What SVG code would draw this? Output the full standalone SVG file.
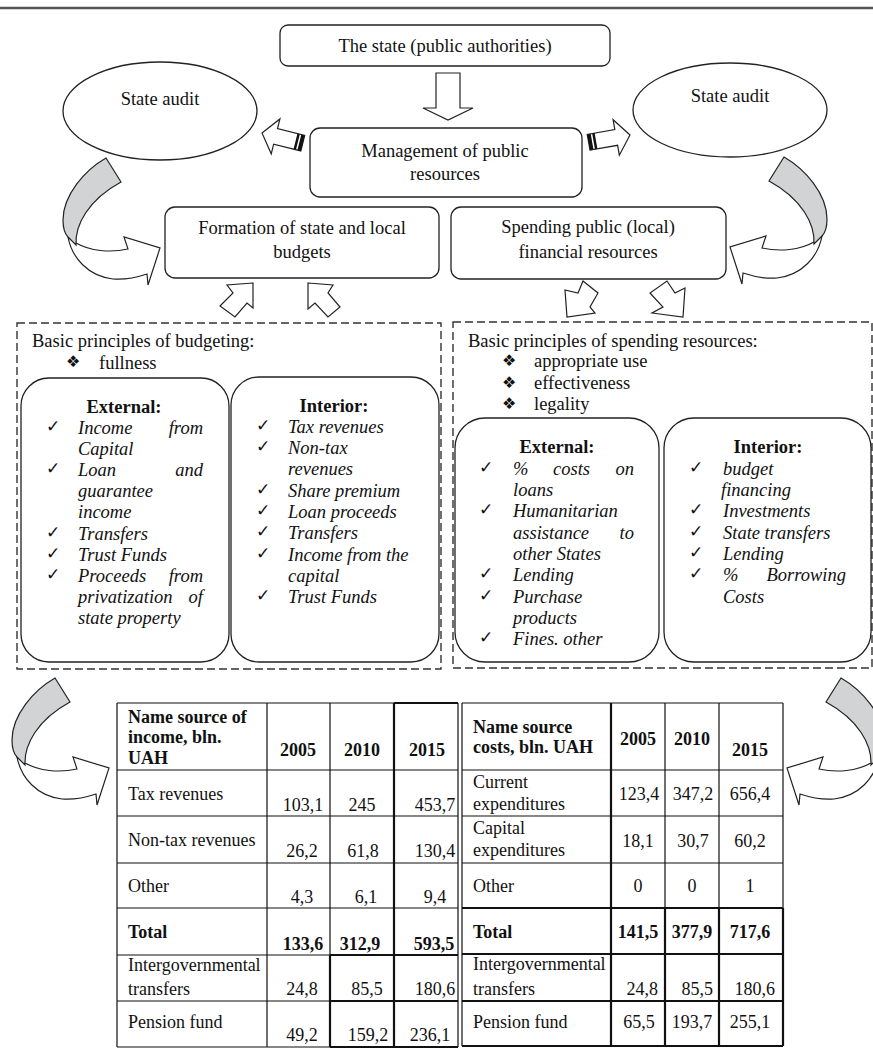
<svg xmlns="http://www.w3.org/2000/svg" width="873" height="1052" viewBox="0 0 873 1052">
<style>
text { font-family: "Liberation Serif", "Times New Roman", serif; font-size: 18.5px; fill: #111; }
.b { font-weight: bold; }
.i { font-style: italic; }
.m { text-anchor: middle; }
.e { text-anchor: end; }
.t { font-size: 18px; }
.ck { font-family: "DejaVu Sans", sans-serif; font-size: 17px; font-style: normal; }
.bu { font-family: "DejaVu Sans", sans-serif; font-size: 16px; }
.box { fill: #fff; stroke: #222; stroke-width: 1.3; }
.dash { fill: none; stroke: #333; stroke-width: 1.4; stroke-dasharray: 8 4; }
.arr { fill: #fff; stroke: #222; stroke-width: 1.2; stroke-linejoin: miter; }
.gray { fill: #d2d3d5; stroke: #222; stroke-width: 1.2; }
.tl { stroke: #111; stroke-width: 1.2; fill: none; }
.tk { stroke: #111; stroke-width: 2.2; fill: none; }
</style>
<defs>
<g id="curv">
<path class="arr" d="M68,237 C72,258 88,276 113,279 C125,280 138,277 147,274 L148,285 L160,248 L124,237 L128,249 C110,253 90,251 76,243 Z"/>
<path class="gray" d="M106,158 C85,170 63,195 63,220 C63,228 65,234 68,237 L76,245 C75,225 88,200 121,182 Z"/>
</g>
<g id="sarr">
<polygon class="arr" points="0,0 14,-18 14,-8 42,-8 42,8 14,8 14,18"/>
<rect x="34.5" y="-8" width="2.5" height="16" fill="#111"/>
<rect x="38.5" y="-8" width="3.5" height="16" fill="#111"/>
</g>
</defs>

<line x1="0" y1="8" x2="873" y2="8" stroke="#555" stroke-width="2.5"/>

<g id="connectors">
<polygon class="arr" points="436,73 460,73 460,108 473,108 448,120 423,108 436,108"/>
<use href="#sarr" transform="translate(262,133) rotate(14)"/>
<use href="#sarr" transform="translate(630,135) rotate(-10) scale(-1,1)"/>
<use href="#curv"/>
<use href="#curv" transform="translate(890,-1) scale(-1,1)"/>
<use href="#curv" transform="translate(-51,520)"/>
<use href="#curv" transform="translate(947,520) scale(-1,1)"/>
<polygon class="arr" points="253,283 227,285 233,293 220,306 235,317 247,303 253,308"/>
<polygon class="arr" points="308,283 333,285 328,293 340,307 328,317 315,303 308,309"/>
<polygon class="arr" points="583,281 578,293 565,290 567,317 595,313 590,307 598,293"/>
<polygon class="arr" points="667,281 675,293 685,288 683,317 652,313 663,307 650,293"/>
</g>

<g id="state">
<rect class="box" x="280" y="25" width="330" height="41" rx="8"/>
<text class="m" x="445" y="52">The state (public authorities)</text>
</g>

<g id="audit-left">
<ellipse class="box" cx="160" cy="111" rx="97" ry="49"/>
<text class="m" x="160" y="105">State audit</text>
</g>

<g id="audit-right">
<ellipse class="box" cx="730" cy="110" rx="97" ry="47"/>
<text class="m" x="730" y="102">State audit</text>
</g>

<g id="management">
<rect class="box" x="310" y="128" width="272" height="69" rx="10"/>
<text class="m" x="445" y="157">Management of public</text>
<text class="m" x="445" y="180">resources</text>
</g>

<g id="formation">
<rect class="box" x="165" y="207" width="274" height="71" rx="10"/>
<text class="m" x="302" y="234">Formation of state and local</text>
<text class="m" x="302" y="258">budgets</text>
</g>

<g id="spending">
<rect class="box" x="451" y="207" width="275" height="72" rx="10"/>
<text class="m" x="588" y="233">Spending public (local)</text>
<text class="m" x="588" y="258">financial resources</text>
</g>

<g id="budgeting-principles">
<rect class="dash" x="17" y="323" width="424" height="346"/>
<text x="32" y="347">Basic principles of budgeting:</text>
<text class="bu" x="66" y="367">❖</text>
<text x="99" y="369">fullness</text>
</g>

<g id="budget-external">
<rect class="box" x="21" y="378" width="208" height="284" rx="28"/>
<text class="b m" x="124" y="413">External:</text>
<text class="ck" x="46" y="432">✓</text><text class="i" x="78" y="434">Income</text><text class="i e" x="203" y="434">from</text>
<text class="i" x="78" y="455">Capital</text>
<text class="ck" x="46" y="474">✓</text><text class="i" x="78" y="476">Loan</text><text class="i e" x="203" y="476">and</text>
<text class="i" x="78" y="497">guarantee</text>
<text class="i" x="78" y="518">income</text>
<text class="ck" x="46" y="538">✓</text><text class="i" x="78" y="540">Transfers</text>
<text class="ck" x="46" y="559">✓</text><text class="i" x="78" y="561">Trust Funds</text>
<text class="ck" x="46" y="580">✓</text><text class="i" x="78" y="582">Proceeds</text><text class="i e" x="203" y="582">from</text>
<text class="i" x="78" y="603">privatization</text><text class="i e" x="203" y="603">of</text>
<text class="i" x="78" y="624">state property</text>
</g>

<g id="budget-interior">
<rect class="box" x="231" y="377" width="208" height="285" rx="28"/>
<text class="b m" x="334" y="412">Interior:</text>
<text class="ck" x="256" y="431">✓</text><text class="i" x="288" y="433">Tax revenues</text>
<text class="ck" x="256" y="452">✓</text><text class="i" x="288" y="454">Non-tax</text>
<text class="i" x="288" y="475">revenues</text>
<text class="ck" x="256" y="495">✓</text><text class="i" x="288" y="497">Share premium</text>
<text class="ck" x="256" y="516">✓</text><text class="i" x="288" y="518">Loan proceeds</text>
<text class="ck" x="256" y="537">✓</text><text class="i" x="288" y="539">Transfers</text>
<text class="ck" x="256" y="559">✓</text><text class="i" x="288" y="561">Income from the</text>
<text class="i" x="288" y="582">capital</text>
<text class="ck" x="256" y="601">✓</text><text class="i" x="288" y="603">Trust Funds</text>
</g>

<g id="spending-principles">
<rect class="dash" x="453" y="322" width="419" height="346"/>
<text x="468" y="347">Basic principles of spending resources:</text>
<text class="bu" x="502" y="366">❖</text><text x="534" y="367">appropriate use</text>
<text class="bu" x="502" y="388">❖</text><text x="534" y="389">effectiveness</text>
<text class="bu" x="502" y="409">❖</text><text x="534" y="410">legality</text>
</g>

<g id="spending-external">
<rect class="box" x="455" y="418" width="204" height="244" rx="30"/>
<text class="b m" x="557" y="453">External:</text>
<text class="ck" x="479" y="473">✓</text><text class="i" x="513" y="475">%</text><text class="i" x="553" y="475">costs</text><text class="i e" x="634" y="475">on</text>
<text class="i" x="513" y="496">loans</text>
<text class="ck" x="479" y="515">✓</text><text class="i" x="513" y="517">Humanitarian</text>
<text class="i" x="513" y="539">assistance</text><text class="i e" x="634" y="539">to</text>
<text class="i" x="513" y="560">other States</text>
<text class="ck" x="479" y="579">✓</text><text class="i" x="513" y="581">Lending</text>
<text class="ck" x="479" y="601">✓</text><text class="i" x="513" y="603">Purchase</text>
<text class="i" x="513" y="624">products</text>
<text class="ck" x="479" y="643">✓</text><text class="i" x="513" y="645">Fines. other</text>
</g>

<g id="spending-interior">
<rect class="box" x="664" y="418" width="207" height="244" rx="30"/>
<text class="b m" x="768" y="453">Interior:</text>
<text class="ck" x="689" y="473">✓</text><text class="i" x="723" y="475">budget</text>
<text class="i" x="721" y="496">financing</text>
<text class="ck" x="689" y="515">✓</text><text class="i" x="723" y="517">Investments</text>
<text class="ck" x="689" y="537">✓</text><text class="i" x="723" y="539">State transfers</text>
<text class="ck" x="689" y="558">✓</text><text class="i" x="723" y="560">Lending</text>
<text class="ck" x="689" y="579">✓</text><text class="i" x="723" y="581">%</text><text class="i e" x="846" y="581">Borrowing</text>
<text class="i" x="723" y="603">Costs</text>
</g>

<g id="income-table">
<path class="tl" d="M117,703 H458 M117,770 H458 M117,816 H458 M117,863 H458 M117,908 H458 M117,955 H458 M117,1001 H458 M117,1047 H458 M117,703 V1047 M267,703 V1047 M330,703 V1047 M458,703 V1047"/>
<path class="tk" d="M394,703 V1047 M394,703 H458 M330,955 H458 M330,1001 H458 M330,1047 H458 M330,955 V1047"/>
<text class="b t" x="128" y="723">Name source of</text>
<text class="b t" x="128" y="743">income, bln.</text>
<text class="b t" x="128" y="764">UAH</text>
<text class="b m t" x="298" y="756">2005</text>
<text class="b m t" x="362" y="756">2010</text>
<text class="b m t" x="427" y="756">2015</text>
<text class="t" x="128" y="800">Tax revenues</text>
<text class="m t" x="303" y="811">103,1</text><text class="m t" x="362" y="811">245</text><text class="m t" x="435" y="811">453,7</text>
<text class="t" x="128" y="846">Non-tax revenues</text>
<text class="m t" x="302" y="857">26,2</text><text class="m t" x="363" y="857">61,8</text><text class="m t" x="435" y="857">130,4</text>
<text class="t" x="128" y="892">Other</text>
<text class="m t" x="302" y="903">4,3</text><text class="m t" x="366" y="903">6,1</text><text class="m t" x="435" y="903">9,4</text>
<text class="b t" x="128" y="938">Total</text>
<text class="b m t" x="303" y="950">133,6</text><text class="b m t" x="360" y="950">312,9</text><text class="b m t" x="434" y="950">593,5</text>
<text class="t" x="128" y="971">Intergovernmental</text>
<text class="t" x="128" y="995">transfers</text>
<text class="m t" x="302" y="995">24,8</text><text class="m t" x="367" y="995">85,5</text><text class="m t" x="435" y="995">180,6</text>
<text class="t" x="128" y="1028">Pension fund</text>
<text class="m t" x="302" y="1041">49,2</text><text class="m t" x="368" y="1041">159,2</text><text class="m t" x="430" y="1041">236,1</text>
</g>

<g id="costs-table">
<path class="tl" d="M462,703 H783 M462,770 H783 M462,816 H783 M462,863 H783 M462,908 H783 M462,703 V1046 M665,703 V908 M719,703 V908 M783,703 V908"/>
<path class="tk" d="M611,703 V1046 M462,954 H783 M462,1001 H783 M462,1046 H783 M665,908 V1046 M719,908 V1046 M783,908 V1046 M462,908 H783"/>
<text class="b t" x="473" y="733">Name source</text>
<text class="b t" x="473" y="753">costs, bln. UAH</text>
<text class="b m t" x="638" y="745">2005</text>
<text class="b m t" x="692" y="745">2010</text>
<text class="b m t" x="750" y="756">2015</text>
<text class="t" x="473" y="788">Current</text>
<text class="t" x="473" y="810">expenditures</text>
<text class="m t" x="639" y="800">123,4</text><text class="m t" x="693" y="800">347,2</text><text class="m t" x="750" y="800">656,4</text>
<text class="t" x="473" y="834">Capital</text>
<text class="t" x="473" y="856">expenditures</text>
<text class="m t" x="638" y="847">18,1</text><text class="m t" x="693" y="847">30,7</text><text class="m t" x="750" y="847">60,2</text>
<text class="t" x="473" y="892">Other</text>
<text class="m t" x="638" y="892">0</text><text class="m t" x="692" y="892">0</text><text class="m t" x="750" y="892">1</text>
<text class="b t" x="473" y="938">Total</text>
<text class="b m t" x="638" y="938">141,5</text><text class="b m t" x="692" y="938">377,9</text><text class="b m t" x="750" y="938">717,6</text>
<text class="t" x="473" y="970">Intergovernmental</text>
<text class="t" x="473" y="995">transfers</text>
<text class="e t" x="658" y="995">24,8</text><text class="e t" x="713" y="995">85,5</text><text class="e t" x="775" y="995">180,6</text>
<text class="t" x="473" y="1028">Pension fund</text>
<text class="m t" x="639" y="1028">65,5</text><text class="m t" x="692" y="1028">193,7</text><text class="m t" x="750" y="1028">255,1</text>
</g>
</svg>
